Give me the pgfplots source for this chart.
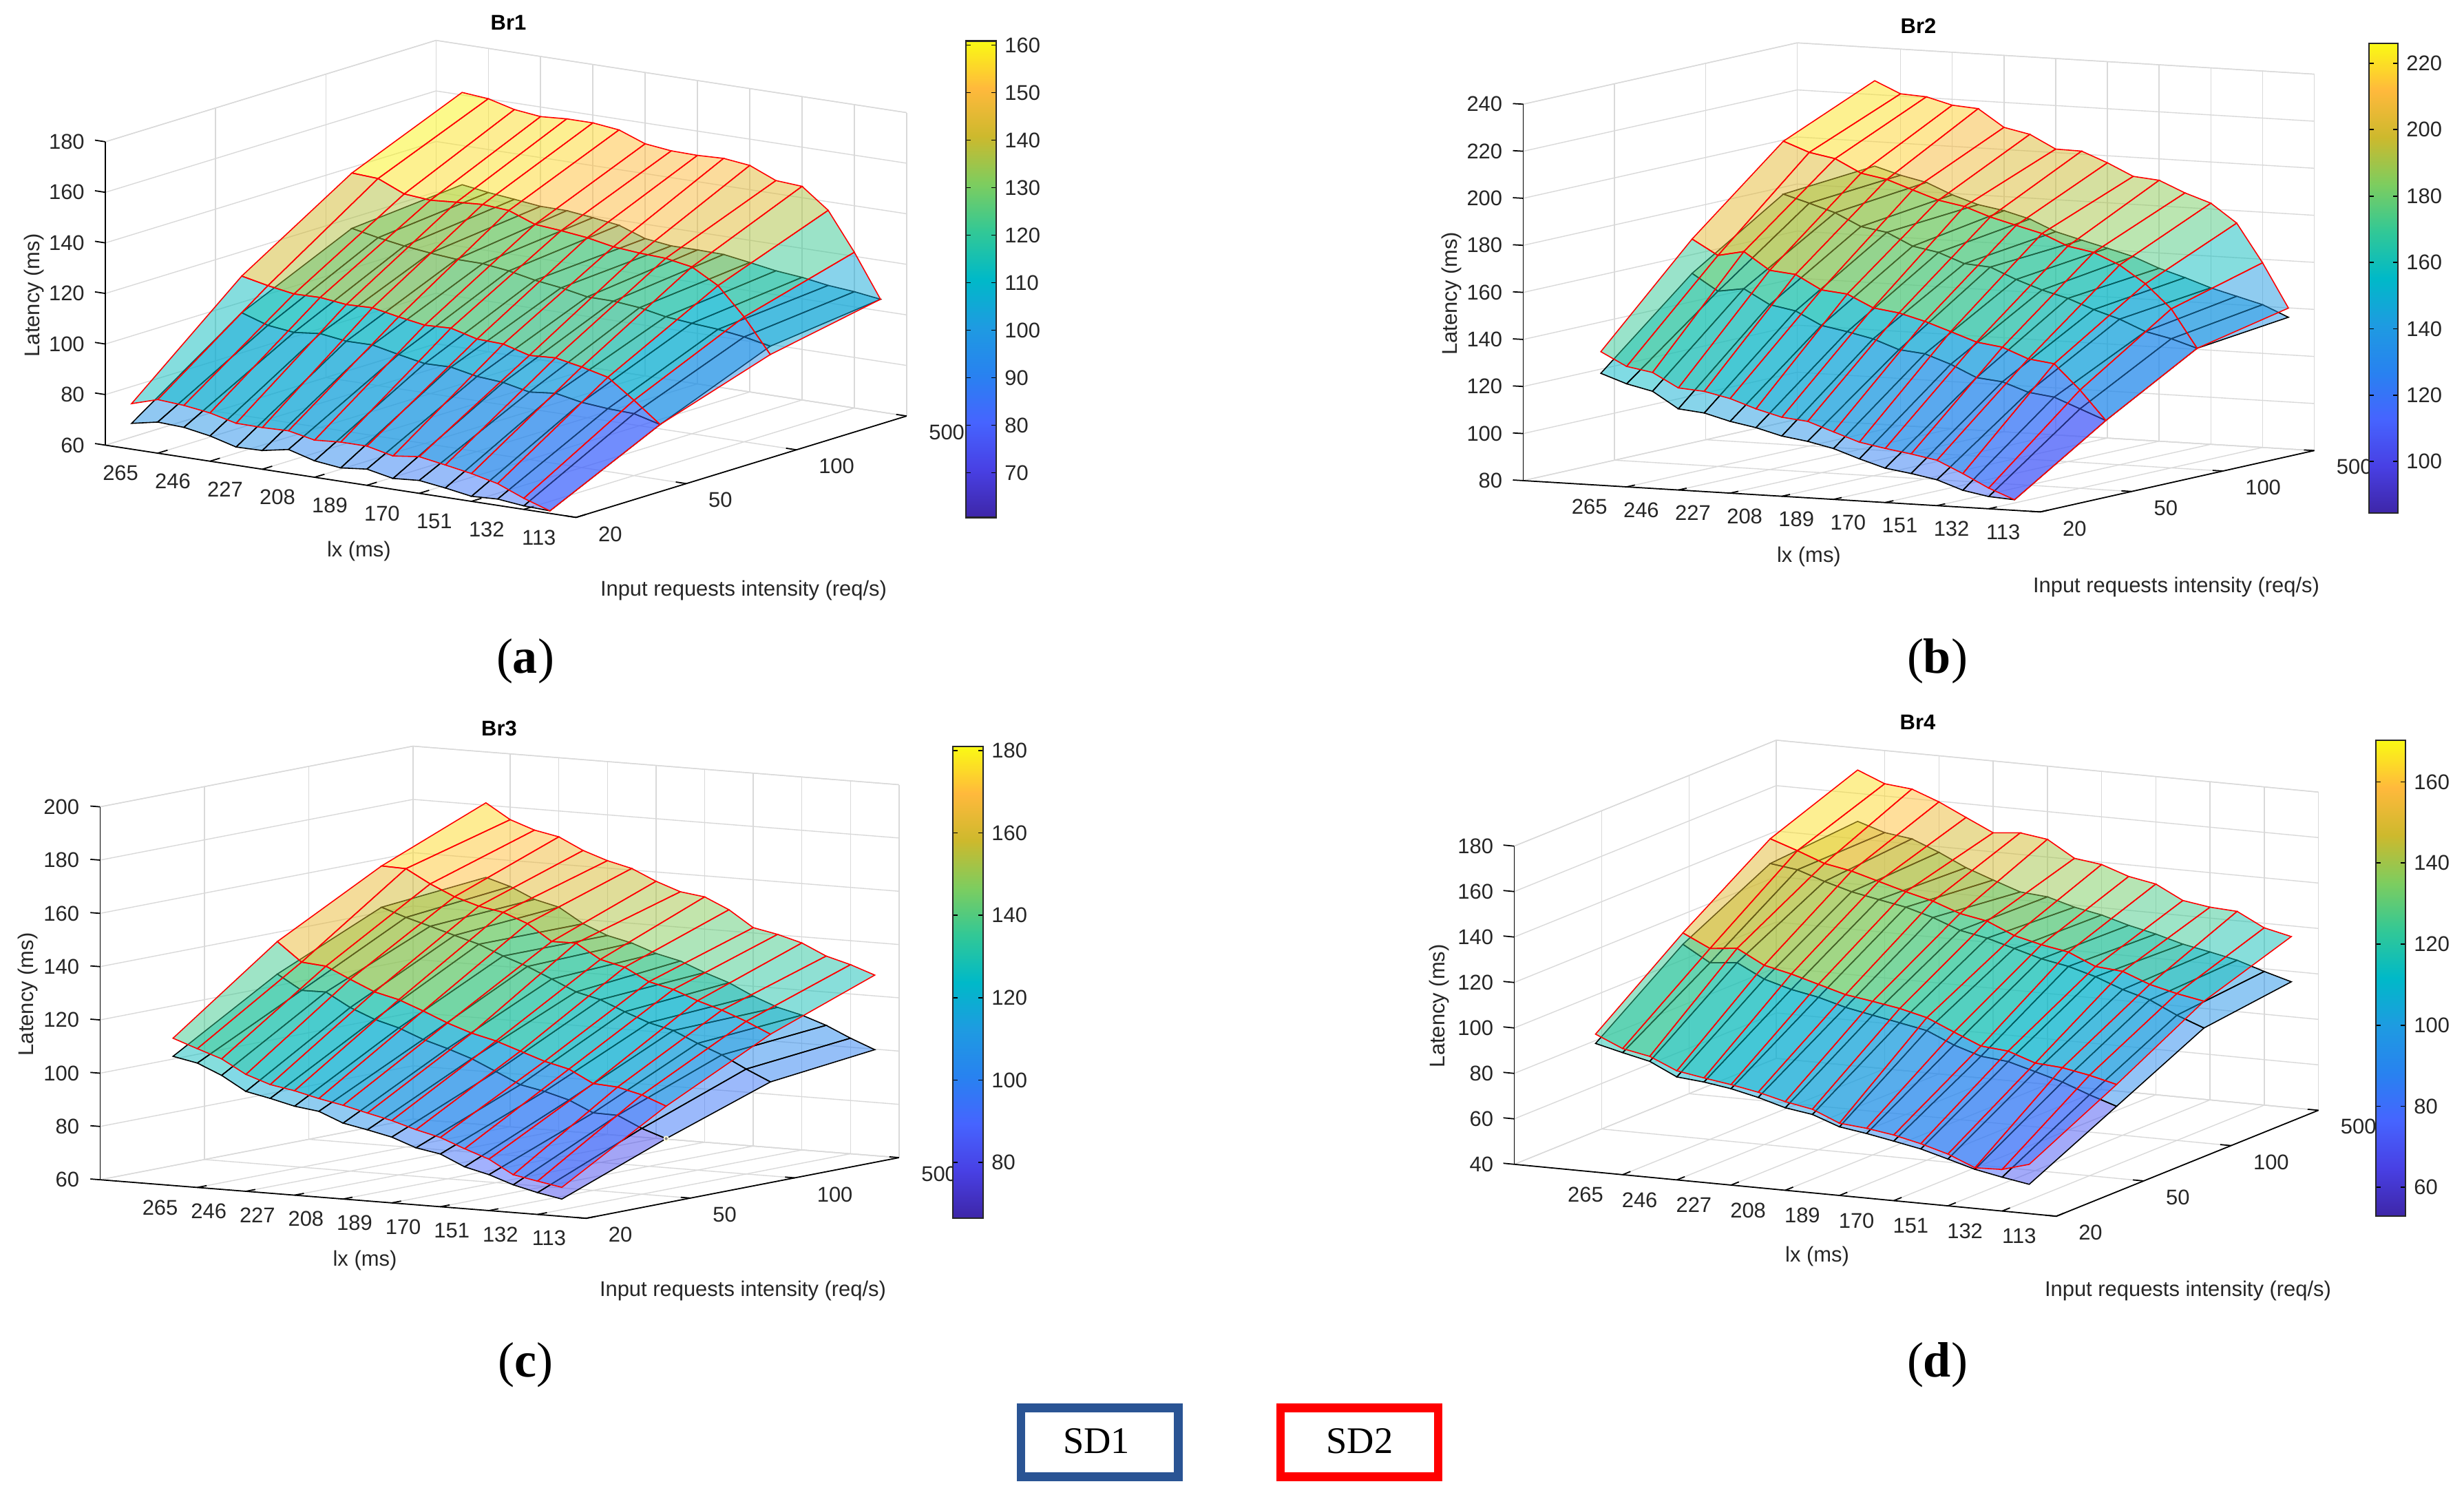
\documentclass[border=0pt]{standalone}
\usepackage{fontspec}
\setmainfont{Liberation Sans}
\newfontfamily\capfont{Liberation Serif}
\usepackage{pgfplots}
\pgfplotsset{compat=1.18}

\definecolor{txt}{gray}{0.15}
\definecolor{sdblue}{RGB}{42,84,148}
\newcommand{\lblfont}{\fontsize{8.8}{10.5}\selectfont}

\pgfplotsset{
  colormap={parula}{rgb255=(62,38,168) rgb255=(72,64,228) rgb255=(70,100,255) rgb255=(40,130,240)
    rgb255=(30,155,225) rgb255=(0,185,200) rgb255=(50,200,150) rgb255=(125,205,95)
    rgb255=(205,185,45) rgb255=(255,185,60) rgb255=(250,250,20)},
  panel/.style={
    anchor=south west, clip=false,
    colormap name=parula,
    xmax=17, ymin=0, ymax=3,
    grid=major, grid style={black!15,line width=0.4pt},
    3d box=background, axis line style={black!15,line width=0.4pt},
    xtick={1,3,...,17}, xticklabels={265,246,227,208,189,170,151,132,113},
    ytick={0,1,2,3}, yticklabels={20,50,100,500},
    tick style={draw=none}, major tick length=0pt, tick align=inside,
    /pgf/number format/assume math mode=true,
    tick label style={font=\lblfont,text=txt},
    label style={font=\lblfont,text=txt},
    xticklabel style={anchor=center,xshift=-0.54cm,yshift=-0.29cm},
    yticklabel style={anchor=west,xshift=0.20cm,yshift=-0.24cm},
    zticklabel style={anchor=east,xshift=-0.18cm},
    title style={font=\lblfont\bfseries,text=black,at={(rel axis cs:0,0,0)},anchor=center},
    x label style={at={(rel axis cs:0,0,0)},anchor=center},
    y label style={at={(rel axis cs:0,0,0)},anchor=center,rotate=0},
    z label style={at={(rel axis cs:0,0,0)},anchor=center},
    xlabel={lx (ms)}, ylabel={Input requests intensity (req/s)}, zlabel={Latency (ms)},
  },
  cbar/.style={
    colormap name=parula,
    /pgf/number format/assume math mode=true,
    tick label style={font=\lblfont,text=txt},
    axis line style={black!85,line width=0.8pt},
    ytick style={black,line width=0.5pt},
    major tick length=0.07cm,
  },
}
% each surface: flat faces coloured from the far corner, then the mesh on top
\newcommand{\sdsurf}[2]{%
  \addplot3[surf,shader=flat corner,z buffer=none,mesh/rows=4,fill opacity=0.5,draw opacity=0] coordinates {#2};
  \addplot3[surf,shader=faceted,z buffer=none,mesh/rows=4,fill opacity=0,draw opacity=1,faceted color=#1,line width=0.45pt] coordinates {#2};
}
% black axis lines and ticks: #1 xmin, #2 zmin, #3 zmax, #4 z tick list
\newcommand{\blackaxes}[4]{%
  \draw[black,line width=0.5pt] (axis cs:#1,0,#2)--(axis cs:17,0,#2)--(axis cs:17,3,#2);
  \draw[black,line width=0.5pt] (axis cs:#1,0,#2)--(axis cs:#1,0,#3);
  \pgfplotsinvokeforeach{1,3,...,17}{\draw[black,line width=0.5pt] (axis cs:##1,0,#2)--(axis cs:##1,0.09,#2);}
  \pgfplotsinvokeforeach{0,1,2,3}{\draw[black,line width=0.5pt] (axis cs:17,##1,#2)--(axis cs:16.6,##1,#2);}
  \pgfplotsinvokeforeach{#4}{\draw[black,line width=0.5pt] (axis cs:#1,0,##1)--(axis cs:#1-0.4,0,##1);}
}

\begin{document}
\begin{tikzpicture}
\useasboundingbox (0,0) rectangle (35.79,21.71);

% Br1
\begin{axis}[panel, at={(1.531cm,14.196cm)},
  x={(0.3798cm,-0.0583cm)}, y={(1.6005cm,0.4908cm)}, z={(0cm,0.03672cm)},
  xmin=-1, zmin=60, zmax=180, ztick={60,80,...,180},
  point meta min=60.6, point meta max=160.9,
  title={Br1}, title style={xshift=5.854cm,yshift=5.92cm},
  x label style={xshift=3.683cm,yshift=-1.545cm},
  y label style={xshift=9.269cm,yshift=-2.115cm},
  z label style={xshift=2.175cm,yshift=1.034cm},
]
\blackaxes{-1}{60}{180}{60,80,...,180}
\sdsurf{black}{
(16,3,104.6)(15,3,106)(14,3,106.9)(13,3,108.5)(12,3,109.5)(11,3,111.2)(10,3,112.8)(9,3,113)(8,3,113)(7,3,114.3)(6,3,118)(5,3,119.4)(4,3,120.6)(3,3,120.7)(2,3,121.9)(1,3,123)(0,3,124.5)
(16,2,99.4)(15,2,101.5)(14,2,102.9)(13,2,103.7)(12,2,104.7)(11,2,106.7)(10,2,107.7)(9,2,107.8)(8,2,109.8)(7,2,111.2)(6,2,113.3)(5,2,114.6)(4,2,114.7)(3,2,115.6)(2,2,116.8)(1,2,118.5)(0,2,120.6)
(16,1,81.8)(15,1,84.5)(14,1,84.9)(13,1,85.8)(12,1,87.8)(11,1,86.7)(10,1,88.9)(9,1,89.7)(8,1,91.8)(7,1,91.6)(6,1,93.6)(5,1,95.8)(4,1,95.7)(3,1,97.1)(2,1,96)(1,1,97.2)(0,1,100.6)
(16,0,61)(15,0,61.4)(14,0,62.5)(13,0,62)(12,0,63.7)(11,0,65.1)(10,0,64.3)(9,0,66.4)(8,0,65.3)(7,0,66.5)(6,0,69.4)(5,0,67.4)(4,0,67.2)(3,0,70)(2,0,71.8)(1,0,72.3)(0,0,70.2)
}
\sdsurf{red}{
(16,3,104.6)(15,3,121.6)(14,3,136.6)(13,3,144.5)(12,3,145.2)(11,3,149.6)(10,3,150.8)(9,3,150.4)(8,3,150.6)(7,3,151.8)(6,3,155.7)(5,3,156.9)(4,3,156.9)(3,3,156.2)(2,3,157.4)(1,3,160.1)(0,3,161)
(16,2,96.1)(15,2,109.4)(14,2,120.2)(13,2,126)(12,2,127.8)(11,2,128.3)(10,2,129.2)(9,2,131.2)(8,2,132.4)(7,2,133.3)(6,2,137.2)(5,2,138)(4,2,137.3)(3,2,136.5)(2,2,137.4)(1,2,141.9)(0,2,142.5)
(16,1,81.8)(15,1,89.8)(14,1,97.3)(13,1,99.8)(12,1,101.8)(11,1,101.2)(10,1,104.1)(9,1,104.5)(8,1,107.2)(7,1,106.8)(6,1,108.5)(5,1,110.5)(4,1,110.2)(3,1,111.4)(2,1,111.2)(1,1,112.9)(0,1,115.1)
(16,0,61)(15,0,64.4)(14,0,68.6)(13,0,71)(12,0,72.8)(11,0,74.5)(10,0,73.2)(9,0,75.5)(8,0,75.5)(7,0,74.7)(6,0,76.8)(5,0,76.5)(4,0,76.6)(3,0,79.1)(2,0,80.5)(1,0,81.2)(0,0,78)
}
\end{axis}
\pgfplotscolorbardrawstandalone[colormap name=parula, point meta min=60.6, point meta max=160.9,
  colorbar style={cbar, at={(13.73cm,14.197cm)}, anchor=south west, width=0.44cm, height=6.92cm, ytick={70,80,...,160}}]

% Br2
\begin{axis}[panel, at={(22.125cm,14.276cm)},
  x={(0.3756cm,-0.02272cm)}, y={(1.326cm,0.2969cm)}, z={(0cm,0.03417cm)},
  xmin=-3, zmin=80, zmax=240, ztick={80,100,...,240},
  point meta min=84.5, point meta max=226,
  title={Br2}, title style={xshift=5.74cm,yshift=6.394cm},
  x label style={xshift=4.149cm,yshift=-1.108cm},
  y label style={xshift=9.485cm,yshift=-1.545cm},
  z label style={xshift=2.715cm,yshift=1.037cm},
]
\blackaxes{-3}{80}{240}{80,100,...,240}
\sdsurf{black}{
(16,3,136)(15,3,140.7)(14,3,143.6)(13,3,146.5)(12,3,150.2)(11,3,153.5)(10,3,157.8)(9,3,160.7)(8,3,163.5)(7,3,166.4)(6,3,171.1)(5,3,174)(4,3,175.9)(3,3,179.4)(2,3,184)(1,3,186.4)(0,3,189.6)
(16,2,131.5)(15,2,134.9)(14,2,137.3)(13,2,141.9)(12,2,145.3)(11,2,149.4)(10,2,152.3)(9,2,156.1)(8,2,160.7)(7,2,161.5)(6,2,165.6)(5,2,167.6)(4,2,172.8)(3,2,174.6)(2,2,179.8)(1,2,183.2)(0,2,186.4)
(16,1,109.5)(15,1,113.8)(14,1,118.1)(13,1,119.5)(12,1,123.3)(11,1,124.4)(10,1,129.4)(9,1,133.2)(8,1,134.3)(7,1,138.2)(6,1,140.6)(5,1,142.6)(4,1,148.1)(3,1,150.1)(2,1,156.2)(1,1,154.5)(0,1,161.4)
(16,0,84.5)(15,0,85.2)(14,0,87.2)(13,0,91)(12,0,93)(11,0,94.6)(10,0,97.9)(9,0,101.6)(8,0,104)(7,0,105.6)(6,0,108.5)(5,0,110.5)(4,0,113.4)(3,0,114.5)(2,0,121.3)(1,0,123.8)(0,0,127.6)
}
\sdsurf{red}{
(16,3,139.9)(15,3,158.5)(14,3,174.7)(13,3,182.5)(12,3,186.2)(11,3,190.9)(10,3,191.9)(9,3,197)(8,3,201.3)(7,3,201.5)(6,3,207.1)(5,3,209.4)(4,3,216.7)(3,3,217.5)(2,3,220.4)(1,3,221)(0,3,225.9)
(16,2,131.5)(15,2,147.6)(14,2,157.6)(13,2,164.9)(12,2,169.6)(11,2,171.6)(10,2,176.3)(9,2,179.1)(8,2,182)(7,2,185.8)(6,2,187.8)(5,2,191.5)(4,2,195.3)(3,2,197.3)(2,2,202.8)(1,2,204.8)(0,2,208.9)
(16,1,109.5)(15,1,121.8)(14,1,132.3)(13,1,133.7)(12,1,138)(11,1,139.5)(10,1,143.3)(9,1,147)(8,1,149.9)(7,1,151.4)(6,1,156.6)(5,1,157.7)(4,1,163.6)(3,1,164.7)(2,1,172)(1,1,169.7)(0,1,176)
(16,0,84.5)(15,0,88.8)(14,0,94.3)(13,0,99.3)(12,0,101.3)(11,0,103)(10,0,105)(9,0,108.7)(8,0,112.5)(7,0,113.6)(6,0,116.5)(5,0,120.2)(4,0,122.6)(3,0,123.4)(2,0,129.3)(1,0,131.2)(0,0,136.8)
}
\end{axis}
\pgfplotscolorbardrawstandalone[colormap name=parula, point meta min=84.5, point meta max=226,
  colorbar style={cbar, at={(34.11cm,14.26cm)}, anchor=south west, width=0.42cm, height=6.82cm, ytick={100,120,...,220}}]

% Br3
\begin{axis}[panel, at={(1.454cm,4.018cm)},
  x={(0.3530cm,-0.0280cm)}, y={(1.515cm,0.2937cm)}, z={(0cm,0.03868cm)},
  xmin=-3, zmin=60, zmax=200, ztick={60,80,...,200},
  point meta min=66.5, point meta max=181,
  title={Br3}, title style={xshift=5.796cm,yshift=6.342cm},
  x label style={xshift=3.846cm,yshift=-1.178cm},
  y label style={xshift=9.336cm,yshift=-1.618cm},
  z label style={xshift=2.692cm,yshift=1.052cm},
]
\blackaxes{-3}{60}{200}{60,80,...,200}
\sdsurf{black}{
(16,3,99.8)(15,3,103.4)(14,3,107.5)(13,3,110.6)(12,3,112.8)(11,3,116.3)(10,3,120.6)(9,3,123.7)(8,3,127.3)(7,3,129.4)(6,3,132.6)(5,3,134.7)(4,3,138.4)(3,3,143.9)(2,3,146.1)(1,3,150.2)(0,3,152.9)
(16,2,95.3)(15,2,99.4)(14,2,104)(13,2,107.6)(12,2,111.7)(11,2,113.9)(10,2,117.3)(9,2,121.1)(8,2,123.3)(7,2,127.4)(6,2,131.4)(5,2,134.6)(4,2,138.3)(3,2,140.9)(2,2,143.6)(1,2,146.2)(0,2,149.3)
(16,1,81.6)(15,1,84.7)(14,1,88.9)(13,1,89.1)(12,1,93.2)(11,1,95.7)(10,1,97.5)(9,1,101.7)(8,1,105.8)(7,1,108.9)(6,1,111.6)(5,1,115.2)(4,1,117.7)(3,1,121.4)(2,1,126.5)(1,1,126.4)(0,1,131.8)
(16,0,66.5)(15,0,68.2)(14,0,70.4)(13,0,73.5)(12,0,75.7)(11,0,79.8)(10,0,81.4)(9,0,84.7)(8,0,86.7)(7,0,88.5)(6,0,92.2)(5,0,93.4)(4,0,95.6)(3,0,97.5)(2,0,102.8)(1,0,106.7)(0,0,108.5)
}
\sdsurf{red}{
(16,3,127.8)(15,3,131)(14,3,133.5)(13,3,137.7)(12,3,140.2)(11,3,142)(10,3,148)(9,3,152.1)(8,3,153.3)(7,3,156.5)(6,3,160.6)(5,3,162.8)(4,3,165.9)(3,3,170.3)(2,3,172.1)(1,3,175.3)(0,3,180.9)
(16,2,113.2)(15,2,117.3)(14,2,120.8)(13,2,123.6)(12,2,127.1)(11,2,129.3)(10,2,134)(9,2,136.2)(8,2,141.6)(7,2,141.5)(6,2,147.5)(5,2,151)(4,2,152.6)(3,2,155.4)(2,2,159.5)(1,2,164.5)(0,2,164.8)
(16,1,93.8)(15,1,97.3)(14,1,99.5)(13,1,100.1)(12,1,104.8)(11,1,107)(10,1,110.1)(9,1,113.2)(8,1,115.4)(7,1,118.5)(6,1,122.3)(5,1,125.8)(4,1,128)(3,1,132)(2,1,136.2)(1,1,137)(0,1,144)
(16,0,70.9)(15,0,72.5)(14,0,74.2)(13,0,79.3)(12,0,82.5)(11,0,86)(10,0,88.2)(9,0,90.9)(8,0,93)(7,0,95.2)(6,0,97)(5,0,99.2)(4,0,100.8)(3,0,103.9)(2,0,109)(1,0,112.1)(0,0,115.3)
}
\addplot3[only marks,mark=*,mark size=0.9pt,mark options={fill=black!50,draw=white!85!yellow,line width=0.5pt}] coordinates {(16,1,81.6)};
\end{axis}
\pgfplotscolorbardrawstandalone[colormap name=parula, point meta min=66.5, point meta max=181,
  colorbar style={cbar, at={(13.54cm,4.02cm)}, anchor=south west, width=0.44cm, height=6.85cm, ytick={80,100,...,180}}]

% Br4
\begin{axis}[panel, at={(21.994cm,4.048cm)},
  x={(0.3937cm,-0.0377cm)}, y={(1.269cm,0.5128cm)}, z={(0cm,0.0330cm)},
  xmin=-3, zmin=40, zmax=180, ztick={40,60,...,180},
  point meta min=52.9, point meta max=170.3,
  title={Br4}, title style={xshift=5.861cm,yshift=6.208cm},
  x label style={xshift=4.401cm,yshift=-1.342cm},
  y label style={xshift=9.786cm,yshift=-1.842cm},
  z label style={xshift=2.30cm,yshift=1.088cm},
]
\blackaxes{-3}{40}{180}{40,60,...,180}
\sdsurf{black}{
(16,3,95.4)(15,3,98.8)(14,3,102.6)(13,3,105.1)(12,3,107.4)(11,3,110.7)(10,3,113.4)(9,3,116.8)(8,3,119.1)(7,3,122.5)(6,3,123.5)(5,3,127.6)(4,3,131.9)(3,3,137.5)(2,3,142.3)(1,3,143.9)(0,3,147.7)
(16,2,90.6)(15,2,95.1)(14,2,100.7)(13,2,104.1)(12,2,108.6)(11,2,112)(10,2,114.2)(9,2,117.6)(8,2,121)(7,2,123.3)(6,2,127.8)(5,2,131.2)(4,2,133.4)(3,2,135.7)(2,2,139.1)(1,2,143.1)(0,2,144.7)
(16,1,71.7)(15,1,75.6)(14,1,80.1)(13,1,83.5)(12,1,86.8)(11,1,88)(10,1,91.8)(9,1,97)(8,1,99.3)(7,1,101.5)(6,1,103.8)(5,1,107.1)(4,1,109.4)(3,1,112.8)(2,1,118.9)(1,1,117.7)(0,1,124.7)
(16,0,52.9)(15,0,54.9)(14,0,57.2)(13,0,60.6)(12,0,63.9)(11,0,66.2)(10,0,68.4)(9,0,70.2)(8,0,74.5)(7,0,76.3)(6,0,79.7)(5,0,82.4)(4,0,84.2)(3,0,85.3)(2,0,91)(1,0,93.7)(0,0,96.6)
}
\sdsurf{red}{
(16,3,115.3)(15,3,118)(14,3,124.1)(13,3,124.8)(12,3,126.6)(11,3,132.7)(10,3,134.9)(9,3,139)(8,3,140.6)(7,3,147.8)(6,3,149.5)(5,3,148.4)(4,3,154)(3,3,159.7)(2,3,164.2)(1,3,165.4)(0,3,170.3)
(16,2,102.4)(15,2,104.6)(14,2,107.5)(13,2,112.1)(12,2,113.1)(11,2,118.3)(10,2,120.4)(9,2,123.3)(8,2,128.5)(7,2,130.7)(6,2,135)(5,2,138)(4,2,141.4)(3,2,144.8)(2,2,147)(1,2,151.5)(0,2,155.6)
(16,1,81.3)(15,1,84.2)(14,1,86.4)(13,1,87.3)(12,1,91.4)(11,1,92.5)(10,1,97.5)(9,1,102.7)(8,1,105.6)(7,1,107.6)(6,1,109.4)(5,1,112.8)(4,1,116.2)(3,1,118.9)(2,1,125.2)(1,1,124)(0,1,129.7)
(16,0,61.7)(15,0,58.3)(14,0,57.9)(13,0,62.8)(12,0,66.2)(11,0,68.9)(10,0,70.7)(9,0,71.8)(8,0,76.8)(7,0,79)(6,0,82)(5,0,84.2)(4,0,86)(3,0,88)(2,0,93.2)(1,0,95.5)(0,0,100.7)
}
\end{axis}
\pgfplotscolorbardrawstandalone[colormap name=parula, point meta min=52.9, point meta max=170.3,
  colorbar style={cbar, at={(34.21cm,4.05cm)}, anchor=south west, width=0.43cm, height=6.91cm, ytick={60,80,...,160}}]

% panel letters
\node[font=\capfont\fontsize{20.5}{24}\selectfont] at (7.63,12.11) {(\textbf{a})};
\node[font=\capfont\fontsize{20.5}{24}\selectfont] at (28.14,12.11) {(\textbf{b})};
\node[font=\capfont\fontsize{20.5}{24}\selectfont] at (7.63,1.89) {(\textbf{c})};
\node[font=\capfont\fontsize{20.5}{24}\selectfont] at (28.14,1.89) {(\textbf{d})};

% key
\draw[sdblue,line width=0.124cm] (14.828,0.265) rectangle (17.116,1.265);
\draw[red,line width=0.124cm] (18.60,0.265) rectangle (20.89,1.265);
\node[font=\capfont\fontsize{15.5}{18}\selectfont] at (15.927,0.78) {SD1};
\node[font=\capfont\fontsize{15.5}{18}\selectfont] at (19.75,0.78) {SD2};
\end{tikzpicture}
\end{document}
